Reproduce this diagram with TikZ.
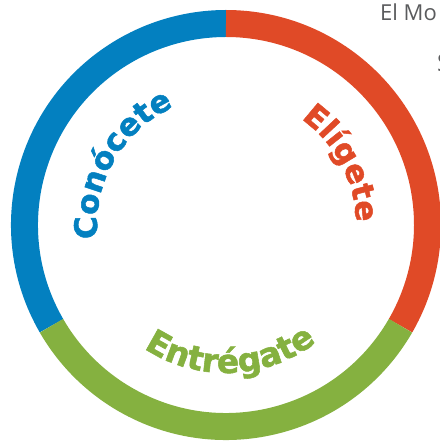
\documentclass[tikz,border=0pt]{standalone}
\usepackage{xcolor}
\usepackage{fontspec}
\setmainfont{DejaVu Sans}
\newfontfamily\titlefont{Open Sans}
\newfontfamily\wordfont{DejaVu Sans Bold}[FakeBold=1.6]
\usepackage{tikz}
\usetikzlibrary{decorations.text}

\definecolor{conblue}{HTML}{0380C0}
\definecolor{elired}{HTML}{E04A27}
\definecolor{entgreen}{HTML}{85B140}
\definecolor{titlegray}{HTML}{5A5B5D}

\tikzset{
  ring/.style={line width=27pt},
  word/.style={decorate, decoration={text along path, text align=center, text color=#1}}
}

\begin{document}
\begin{tikzpicture}[x=1pt, y=1pt]

\useasboundingbox (-226,-216) rectangle (213,225);

% ring %
\draw[ring, conblue] (210:201.5) arc[start angle=210, end angle=90, radius=201.5];
\draw[ring, elired] (90:201.5) arc[start angle=90, end angle=-30, radius=201.5];
\draw[ring, entgreen] (-30:201.5) arc[start angle=-30, end angle=-150, radius=201.5];

% words %
\path[word=conblue, decoration={text={|\wordfont\fontsize{31}{31}\selectfont|Conócete}}]
  (210:129) arc[start angle=210, end angle=90, radius=129];
\path[word=elired, decoration={text={|\wordfont\fontsize{31}{31}\selectfont|Elígete}}]
  (88:130) arc[start angle=88, end angle=-32, radius=130];
\path[word=entgreen, decoration={text={|\wordfont\fontsize{33}{33}\selectfont|Entrégate}}]
  (212:148) arc[start angle=212, end angle=332, radius=148];

% title %
\node[anchor=base west, inner sep=0, text=titlegray, font=\titlefont\fontsize{22}{22}\selectfont] (title) at (154,204) {El Mo};
\node[anchor=base west, inner sep=0, text=titlegray, font=\titlefont\fontsize{24}{24}\selectfont] (sub) at (211,153) {S};

\end{tikzpicture}
\end{document}
